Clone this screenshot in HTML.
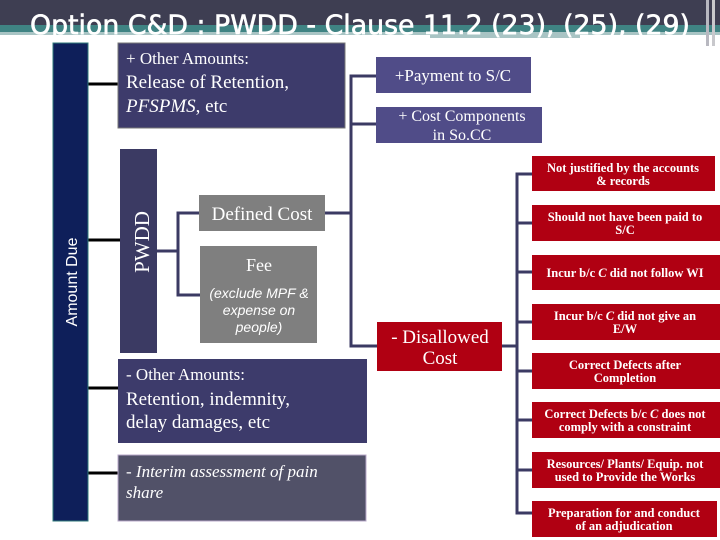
<!DOCTYPE html>
<html><head><meta charset="utf-8"><style>html,body{margin:0;padding:0;background:#fff}svg{display:block}</style></head><body>
<svg width="720" height="540" viewBox="0 0 720 540" xmlns="http://www.w3.org/2000/svg">
<rect x="0" y="0" width="720" height="25" fill="#3e3e52"/>
<rect x="0" y="25" width="720" height="7" fill="#3f8383"/>
<rect x="0" y="32" width="720" height="3" fill="#a8c4c4"/>
<rect x="430" y="35" width="150" height="3" fill="#a8c4c4"/>
<rect x="706" y="0" width="3" height="46" fill="#b8b8c0"/>
<rect x="712" y="0" width="3" height="46" fill="#c8c8cc"/>
<text x="30" y="34" font-family="DejaVu Sans, sans-serif" font-size="27" fill="#fff" stroke="#fff" stroke-width="0.6" textLength="660" lengthAdjust="spacingAndGlyphs">Option C&amp;D : PWDD - Clause 11.2 (23), (25), (29)</text>

<g stroke="#000" stroke-width="3">
<line x1="88" y1="84" x2="118" y2="84"/>
<line x1="88" y1="240" x2="120" y2="240"/>
<line x1="88" y1="388" x2="118" y2="388"/>
<line x1="88" y1="473" x2="118" y2="473"/>
</g>
<g stroke="#3b3a63" stroke-width="3" fill="none">
<line x1="157" y1="251" x2="178" y2="251"/>
<polyline points="199,213 178,213 178,295 200,295"/>
<line x1="325" y1="213" x2="351" y2="213"/>
<polyline points="376,76 351,76 351,346 377,346"/>
<line x1="351" y1="124" x2="376" y2="124"/>
<line x1="502" y1="346" x2="517" y2="346"/>
<polyline points="532,174 517,174 517,513 532,513"/>
<line x1="517" y1="223" x2="532" y2="223"/>
<line x1="517" y1="272" x2="532" y2="272"/>
<line x1="517" y1="322" x2="532" y2="322"/>
<line x1="517" y1="371" x2="532" y2="371"/>
<line x1="517" y1="420" x2="532" y2="420"/>
<line x1="517" y1="470" x2="532" y2="470"/>
</g>

<rect x="53" y="43" width="35" height="478" fill="#0e1f5a" stroke="#2f7a7a" stroke-width="1"/>
<text transform="translate(77,282) rotate(-90)" text-anchor="middle" font-family="Liberation Sans, sans-serif" font-size="16" fill="#fff">Amount Due</text>

<rect x="120" y="149" width="37" height="204" fill="#3b3a63"/>
<text transform="translate(149,242) rotate(-90)" text-anchor="middle" font-family="Liberation Serif, serif" font-size="21" fill="#fff">PWDD</text>

<g font-family="Liberation Serif, serif" fill="#fff">
<rect x="118" y="43" width="227" height="85" fill="#3d3b6b" stroke="#777" stroke-width="1"/>
<text x="126" y="64" font-size="17">+ Other Amounts:</text>
<text x="126" y="88" font-size="19">Release of Retention,</text>
<text x="126" y="112" font-size="19"><tspan font-style="italic">PFSPMS</tspan>, etc</text>

<rect x="376" y="57" width="155" height="36" fill="#504c88"/>
<text x="453" y="81" font-size="17" text-anchor="middle">+Payment to S/C</text>
<rect x="376" y="107" width="166" height="36" fill="#504c88"/>
<text x="462" y="121" font-size="16" text-anchor="middle">+ Cost Components</text>
<text x="462" y="140" font-size="16" text-anchor="middle">in So.CC</text>

<rect x="199" y="195" width="126" height="36" fill="#7f7f7f"/>
<text x="262" y="220" font-size="19" text-anchor="middle">Defined Cost</text>
<rect x="200" y="246" width="117" height="97" fill="#7f7f7f"/>
<text x="259" y="271" font-size="18" text-anchor="middle">Fee</text>
<g font-family="Liberation Sans, sans-serif" font-style="italic" font-size="14" text-anchor="middle">
<text x="259" y="298">(exclude MPF &amp;</text>
<text x="259" y="315">expense on</text>
<text x="259" y="332">people)</text>
</g>

<rect x="118" y="359" width="249" height="84" fill="#3d3b6b"/>
<text x="126" y="380" font-size="17">- Other Amounts:</text>
<text x="126" y="405" font-size="19">Retention, indemnity,</text>
<text x="126" y="428" font-size="19">delay damages, etc</text>

<rect x="118" y="455" width="248" height="66" fill="#515168" stroke="#b8a8c8" stroke-width="1"/>
<text x="126" y="477" font-size="17" font-style="italic">- Interim assessment of pain</text>
<text x="126" y="498" font-size="17" font-style="italic">share</text>

<rect x="377" y="322" width="125" height="49" fill="#b00012"/>
<text x="440" y="343" font-size="19" text-anchor="middle">- Disallowed</text>
<text x="440" y="364" font-size="19" text-anchor="middle">Cost</text>

<g font-size="12.5" font-weight="bold" text-anchor="middle">
<rect x="532" y="156" width="183" height="35" fill="#b00012"/>
<text x="623" y="172">Not justified by the accounts</text><text x="623" y="185">&amp; records</text>
<rect x="532" y="205" width="188" height="36" fill="#b00012"/>
<text x="625" y="221">Should not have been paid to</text><text x="625" y="234">S/C</text>
<rect x="532" y="255" width="188" height="35" fill="#b00012"/>
<text x="625" y="277">Incur b/c <tspan font-style="italic">C</tspan> did not follow WI</text>
<rect x="532" y="304" width="188" height="36" fill="#b00012"/>
<text x="625" y="320">Incur b/c <tspan font-style="italic">C</tspan> did not give an</text><text x="625" y="333">E/W</text>
<rect x="532" y="353" width="188" height="36" fill="#b00012"/>
<text x="625" y="369">Correct Defects after</text><text x="625" y="382">Completion</text>
<rect x="532" y="402" width="188" height="36" fill="#b00012"/>
<text x="625" y="418">Correct Defects b/c <tspan font-style="italic">C</tspan> does not</text><text x="625" y="431">comply with a constraint</text>
<rect x="532" y="452" width="188" height="36" fill="#b00012"/>
<text x="625" y="468">Resources/ Plants/ Equip. not</text><text x="625" y="481">used to Provide the Works</text>
<rect x="532" y="501" width="185" height="36" fill="#b00012"/>
<text x="624" y="517">Preparation for and conduct</text><text x="624" y="530">of an adjudication</text>
</g>
</g>
</svg>
</body></html>
